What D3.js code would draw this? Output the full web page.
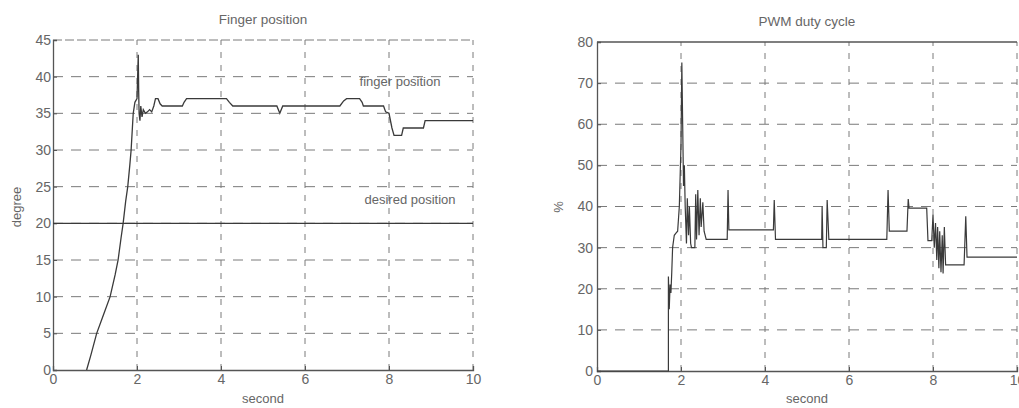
<!DOCTYPE html>
<html><head><meta charset="utf-8">
<script src="https://cdn.jsdelivr.net/npm/d3@7"></script>
<style>
body{margin:0;background:#fff;}
text{font-family:"Liberation Sans",Arial,sans-serif;fill:#666;}
</style></head>
<body><svg id="c" width="1019" height="408"></svg>
<script>
// ---- data ----
const xTicks = [0, 2, 4, 6, 8, 10];
const degreeTicks = [0, 5, 10, 15, 20, 25, 30, 35, 40, 45];
const dutyTicks = [0, 10, 20, 30, 40, 50, 60, 70, 80];

const fingerTime = [0.8,0.9,1.04,1.2,1.36,1.48,1.55,1.62,1.67,1.73,1.78,1.83,1.86,1.89,1.91,1.95,2.0,2.02,2.03,2.04,2.05,2.07,2.09,2.12,2.15,2.2,2.25,2.3,2.35,2.4,2.44,2.5,2.55,2.6,3.08,3.12,3.18,4.13,4.2,4.28,5.33,5.4,5.47,6.83,6.92,6.99,7.3,7.36,7.39,7.87,7.92,8.0,8.07,8.12,8.3,8.34,8.82,8.86,10];
const fingerDeg  = [0,2,5,7.5,10,13,15,18,20,23,25,28,30,33,35,36.5,37,41,43,38,35,34,36,34.5,35.5,35,35.2,35.5,35.2,36,37,37,36.3,36,36,36.5,37,37,36.5,36,36,35,36,36,36.7,37,37,36.5,36,36,35.2,35,33,32,32,33,33,34,34];

const desiredTime = [0, 10];
const desiredDeg  = [20, 20];

const pwmTime = [0,1.70,1.70,1.72,1.74,1.76,1.78,1.80,1.84,1.88,1.92,1.96,2.0,2.02,2.04,2.06,2.08,2.1,2.13,2.15,2.18,2.2,2.23,2.25,2.33,2.35,2.37,2.40,2.43,2.46,2.48,2.52,2.55,2.6,3.1,3.12,3.14,4.2,4.22,4.25,5.35,5.36,5.38,5.46,5.48,5.52,6.90,6.93,6.96,7.38,7.41,7.43,7.85,7.88,7.97,8.0,8.03,8.06,8.09,8.11,8.14,8.16,8.19,8.22,8.24,8.27,8.3,8.74,8.78,8.81,10];
const pwmDuty = [0,0,23,15,21,19,24,30,33,33.5,34,40,55,75,60,45,50,40,31,42,33,40,31,30,30,43,32,44,33,42,35,41,34,32,32,44,34.3,34.3,41.6,32,32,40,30,30,41.6,32,32,44,34,34,41.8,39.6,39.6,31.7,31.7,38,30,36,27,35,25,34,24,33,23.7,35,25.8,25.8,37.6,27.7,27.7];

// ---- drawing ----
const svg = d3.select("#c");
const lineCol = "#3a3a3a", gridCol = "#7a7a7a", axisCol = "#555";
const font = "'Liberation Sans', Arial, sans-serif";

function panel(o){
  const x = d3.scaleLinear().domain([0,10]).range([o.x0, o.x1]);
  const y = d3.scaleLinear().domain([0, o.ymax]).range([o.y0, o.y1]);
  const g = svg.append("g");
  // grid
  g.selectAll(".vg").data(xTicks.filter(t=>t>0)).join("line")
    .attr("x1", d=>x(d)).attr("x2", d=>x(d)).attr("y1", y(0)).attr("y2", y(o.ymax))
    .attr("stroke", gridCol).attr("stroke-width", 1).attr("stroke-dasharray", "6,7");
  g.selectAll(".hg").data(o.yTicks.filter(t=>t>0 && (t<o.ymax || o.dashTop))).join("line")
    .attr("x1", x(0)).attr("x2", x(10)).attr("y1", d=>y(d)).attr("y2", d=>y(d))
    .attr("stroke", gridCol).attr("stroke-width", 1)
    .attr("stroke-dasharray", d => d===o.ymax ? "9,3" : "10,8");
  if(!o.dashTop){
    g.append("line").attr("x1", x(0)).attr("x2", x(10)).attr("y1", y(o.ymax)).attr("y2", y(o.ymax))
      .attr("stroke", axisCol).attr("stroke-width", 1.3);
  }
  // axes
  const ax = g.append("g").attr("transform", `translate(0,${y(0)})`)
    .call(d3.axisBottom(x).tickValues(xTicks).tickSize(-4).tickPadding(4).tickFormat(d3.format("d")));
  const ay = g.append("g").attr("transform", `translate(${x(0)},0)`)
    .call(d3.axisLeft(y).tickValues(o.yTicks).tickSize(-4).tickPadding(o.pad).tickFormat(d3.format("d")));
  [ax, ay].forEach(a => {
    a.select(".domain").attr("stroke", axisCol).attr("stroke-width", 1.3);
    a.selectAll(".tick line").attr("stroke", axisCol);
    a.selectAll("text").attr("font-size", 14).attr("fill", "#666").style("font-family", font);
  });
  // title and labels
  g.append("text").attr("x", o.cx).attr("y", o.ty).attr("text-anchor","middle").attr("font-size", 13.5).text(o.title);
  g.append("text").attr("x", o.cx).attr("y", 403).attr("text-anchor","middle").attr("font-size", 13).text("second");
  g.append("text").attr("transform", `translate(${o.ylx},207) rotate(-90)`).attr("text-anchor","middle")
    .attr("font-size", 13).text(o.ylabel);
  return {x, y, g};
}

// left panel
const L = panel({x0:53, x1:473, y0:370, y1:40, ymax:45, yTicks:degreeTicks, dashTop:true, pad:2,
  title:"Finger position", cx:263, ty:24, ylabel:"degree", ylx:21});
const lineL = d3.line().x(d=>L.x(d[0])).y(d=>L.y(d[1]));
L.g.append("path").datum(desiredTime.map((t,i)=>[t, desiredDeg[i]]))
  .attr("d", lineL).attr("fill","none").attr("stroke", lineCol).attr("stroke-width", 1.3);
L.g.append("path").datum(fingerTime.map((t,i)=>[t, fingerDeg[i]]))
  .attr("d", lineL).attr("fill","none").attr("stroke", lineCol).attr("stroke-width", 1.3);
L.g.append("text").attr("x", 400).attr("y", 86).attr("text-anchor","middle").attr("font-size", 13).text("finger position");
L.g.append("text").attr("x", 410).attr("y", 204).attr("text-anchor","middle").attr("font-size", 13).text("desired position");

// right panel
const R = panel({x0:597, x1:1017, y0:371, y1:42, ymax:80, yTicks:dutyTicks, dashTop:false, pad:4,
  title:"PWM duty cycle", cx:807, ty:26, ylabel:"%", ylx:563});
const lineR = d3.line().x(d=>R.x(d[0])).y(d=>R.y(d[1]));
R.g.append("path").datum(pwmTime.map((t,i)=>[t, pwmDuty[i]]))
  .attr("d", lineR).attr("fill","none").attr("stroke", lineCol).attr("stroke-width", 1.2);
</script></body></html>
